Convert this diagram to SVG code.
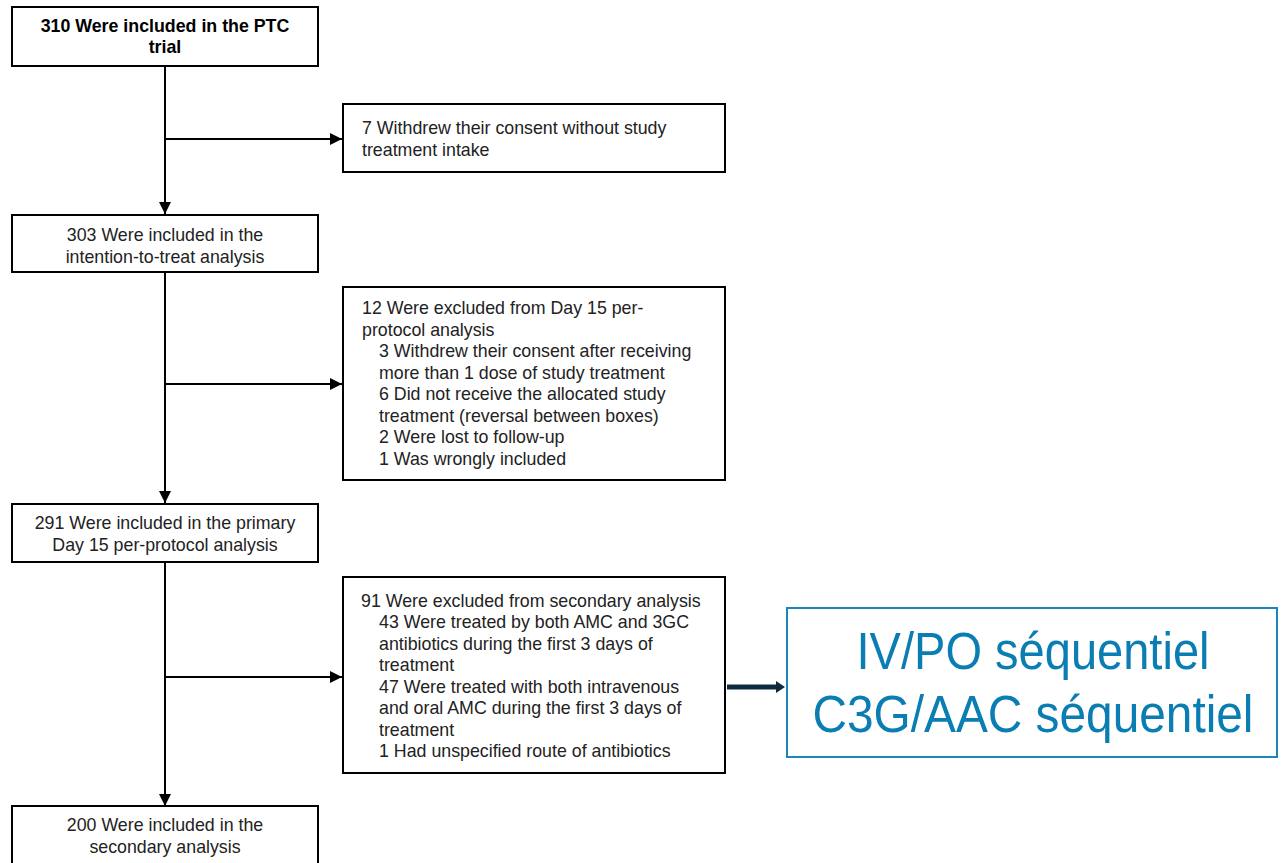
<svg xmlns="http://www.w3.org/2000/svg" width="1281" height="863" viewBox="0 0 1281 863">
<style>
.box{fill:#fff;stroke:#000;stroke-width:2}
.t{font-family:"Liberation Sans",Arial,sans-serif;font-size:17.8px;fill:#222}
.c{text-anchor:middle}
.b{font-weight:bold;fill:#000}
.ln{stroke:#000;stroke-width:2;fill:none}
.big{font-family:"Liberation Sans",Arial,sans-serif;font-size:51px;fill:#0a7db3;text-anchor:middle}
</style>
<defs>
<marker id="ah" viewBox="0 0 12 12" refX="12" refY="6" markerWidth="12" markerHeight="12" markerUnits="userSpaceOnUse" orient="auto">
<path d="M0,0 L12,6 L0,12 Z" fill="#000"/>
</marker>
</defs>
<rect width="1281" height="863" fill="#fff"/>
<g id="connectors">
<line class="ln" x1="165" y1="66" x2="165" y2="214" marker-end="url(#ah)"/>
<line class="ln" x1="165" y1="139" x2="342" y2="139" marker-end="url(#ah)"/>
<line class="ln" x1="165" y1="272" x2="165" y2="503" marker-end="url(#ah)"/>
<line class="ln" x1="165" y1="384" x2="342" y2="384" marker-end="url(#ah)"/>
<line class="ln" x1="165" y1="562" x2="165" y2="806" marker-end="url(#ah)"/>
<line class="ln" x1="165" y1="677" x2="342" y2="677" marker-end="url(#ah)"/>
<path d="M727,684.5 L776,684.5 L776,681 L785,687 L776,693 L776,689.5 L727,689.5 Z" fill="#0e2a3f"/>
</g>
<g id="n310">
<rect class="box" x="12" y="7" width="306" height="59"/>
<text class="t c b" x="165" y="32">310 Were included in the PTC</text>
<text class="t c b" x="165" y="53">trial</text>
</g>
<g id="n7">
<rect class="box" x="343" y="104" width="382" height="68"/>
<text class="t" x="362" y="134">7 Withdrew their consent without study</text>
<text class="t" x="362" y="156">treatment intake</text>
</g>
<g id="n303">
<rect class="box" x="12" y="215" width="306" height="57"/>
<text class="t c" x="165" y="241">303 Were included in the</text>
<text class="t c" x="165" y="263">intention-to-treat analysis</text>
</g>
<g id="n12">
<rect class="box" x="343" y="287" width="382" height="193"/>
<text class="t" x="362" y="314">12 Were excluded from Day 15 per-</text>
<text class="t" x="362" y="336">protocol analysis</text>
<text class="t" x="379" y="357">3 Withdrew their consent after receiving</text>
<text class="t" x="379" y="379">more than 1 dose of study treatment</text>
<text class="t" x="379" y="400">6 Did not receive the allocated study</text>
<text class="t" x="379" y="422">treatment (reversal between boxes)</text>
<text class="t" x="379" y="443">2 Were lost to follow-up</text>
<text class="t" x="379" y="465">1 Was wrongly included</text>
</g>
<g id="n291">
<rect class="box" x="12" y="504" width="306" height="58"/>
<text class="t c" x="165" y="529">291 Were included in the primary</text>
<text class="t c" x="165" y="551">Day 15 per-protocol analysis</text>
</g>
<g id="n91">
<rect class="box" x="343" y="577" width="382" height="196"/>
<text class="t" x="361" y="607">91 Were excluded from secondary analysis</text>
<text class="t" x="379" y="628">43 Were treated by both AMC and 3GC</text>
<text class="t" x="379" y="650">antibiotics during the first 3 days of</text>
<text class="t" x="379" y="671">treatment</text>
<text class="t" x="379" y="693">47 Were treated with both intravenous</text>
<text class="t" x="379" y="714">and oral AMC during the first 3 days of</text>
<text class="t" x="379" y="736">treatment</text>
<text class="t" x="379" y="757">1 Had unspecified route of antibiotics</text>
</g>
<g id="nSeq">
<rect x="787" y="608" width="490" height="149" fill="#fff" stroke="#1a86ba" stroke-width="2"/>
<text class="big" x="1033" y="669" textLength="353" lengthAdjust="spacingAndGlyphs">IV/PO séquentiel</text>
<text class="big" x="1033" y="732" textLength="441" lengthAdjust="spacingAndGlyphs">C3G/AAC séquentiel</text>
</g>
<g id="n200">
<rect class="box" x="12" y="806" width="306" height="64"/>
<text class="t c" x="165" y="831">200 Were included in the</text>
<text class="t c" x="165" y="853">secondary analysis</text>
</g>
</svg>
